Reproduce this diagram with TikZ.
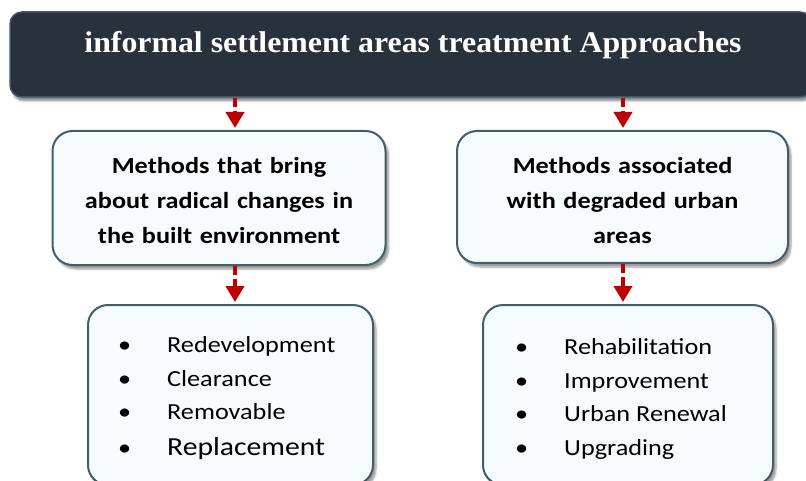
\documentclass[tikz,border=0pt]{standalone}
\usepackage{fontspec}
\setmainfont[FakeStretch=1.14]{Carlito}
\newfontfamily\titlefont[FakeStretch=1.06]{Liberation Serif}
\usetikzlibrary{arrows.meta,shadows.blur}
\definecolor{headfill}{HTML}{29313C}
\definecolor{headline}{HTML}{3A5868}
\definecolor{boxline}{HTML}{3F5F6E}
\definecolor{boxfill}{HTML}{F6FBFD}
\definecolor{arrowred}{HTML}{C00000}
\tikzset{
  headbox/.style={draw=headline, line width=1.5pt, fill=headfill, rounded corners=12pt,
    blur shadow={shadow xshift=2pt, shadow yshift=-4pt, shadow blur steps=6, shadow opacity=45}},
  groupbox/.style={draw=boxline, line width=2pt, fill=boxfill, rounded corners=20pt,
    blur shadow={shadow xshift=3pt, shadow yshift=-4pt, shadow blur steps=6, shadow opacity=40}},
  flow/.style={draw=arrowred, line width=4pt, dash pattern=on 9pt off 4pt,
    -{Triangle[width=18pt,length=16pt]}, shorten >=2pt},
  groupname/.style={font=\fontsize{23}{35}\selectfont\bfseries, align=center, text width=330pt},
  itemlist/.style={font=\fontsize{23}{33.5}\selectfont, align=left, anchor=west, inner sep=0pt},
}
\newcommand{\itm}[1]{\makebox[49pt][l]{\textbullet}#1}
\begin{document}
\begin{tikzpicture}[x=1pt,y=-1pt]
\useasboundingbox (0,0) rectangle (806,481);
% heading
\node[headbox, minimum width=802pt, minimum height=85pt] (top) at (411,54.5) {};
\node[text=white, font=\titlefont\bfseries\fontsize{30}{34}\selectfont] (title) at (413,45) {informal settlement areas treatment Approaches};
% the two families of methods
\node[groupbox, minimum width=333pt, minimum height=134pt] (ml) at (219,198) {};
\node[groupname] (mltext) at (219,201) {Methods that bring\\about radical changes in\\the built environment};
\node[groupbox, minimum width=331pt, minimum height=132pt] (mr) at (622.5,197) {};
\node[groupname] (mrtext) at (622.5,201) {Methods associated\\with degraded urban\\areas};
% method lists
\node[groupbox, minimum width=285pt, minimum height=180pt] (bl) at (230.5,395) {};
\node[itemlist] (bltext) at (118,398) {\itm{Redevelopment}\\\itm{Clearance}\\\itm{Removable}\\[2pt]\itm{{\fontsize{26}{33.5}\selectfont Replacement}}};
\node[groupbox, minimum width=290pt, minimum height=180pt] (br) at (628,395) {};
\node[itemlist] (brtext) at (515,399) {\itm{Rehabilitation}\\\itm{Improvement}\\\itm{Urban Renewal}\\\itm{Upgrading}};
% connectors
\draw[flow] (top.south -| 235,0) -- ([xshift=16pt]ml.north);
\draw[flow] (top.south -| 623,0) -- ([xshift=0.5pt]mr.north);
\draw[flow] ([xshift=16pt]ml.south) -- ([xshift=4.5pt]bl.north);
\draw[flow] ([xshift=0.5pt]mr.south) -- ([xshift=-5pt]br.north);
\end{tikzpicture}
\end{document}
